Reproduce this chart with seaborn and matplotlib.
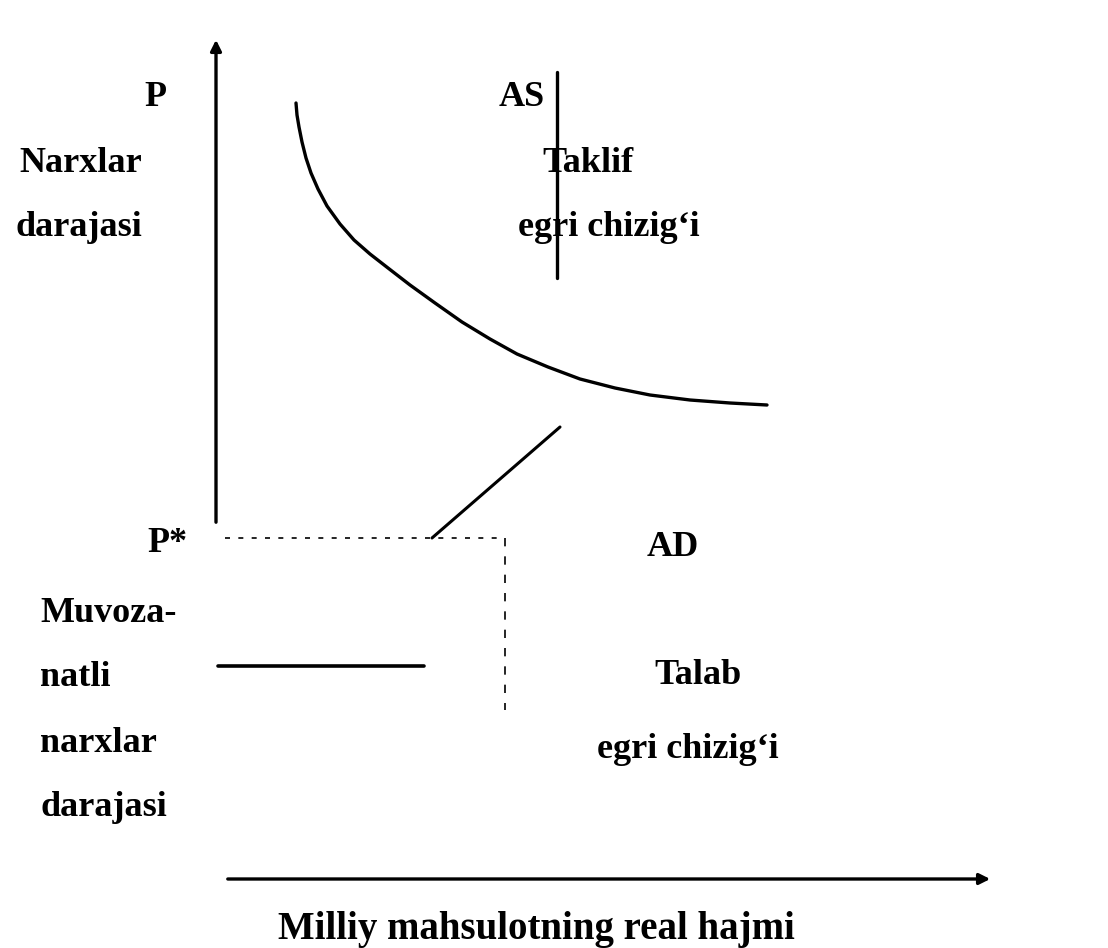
import matplotlib
matplotlib.use("Agg")
import matplotlib.pyplot as plt
import pandas as pd
import seaborn as sns

# AD curve, read in picture pixels (y grows downwards)
ad_x = [296, 297, 299, 302, 306, 311, 318, 327, 340, 354, 370, 388, 410, 435, 462, 490, 517, 548, 580, 615, 650, 690, 730, 767]
ad_y = [103, 115, 127, 142, 158, 173, 189, 206, 224, 240, 254, 268, 285, 303, 322, 339, 354, 367, 379, 388, 395, 400, 403, 405]

# vertical AS line
as_x = [557, 557]
as_y = [72, 278]

# short rising segment meeting the P* level
seg_x = [432, 560]
seg_y = [538, 427]

# dashed guides at P*
pstar_x = [225, 505]
pstar_y = [538, 538]
drop_x = [505, 505]
drop_y = [538, 710]

# solid level line below
level_x = [218, 424]
level_y = [666, 666]

# axes ends
yaxis_x, yaxis_y0, yaxis_y1 = 216, 525, 37
xaxis_y, xaxis_x0, xaxis_x1 = 879, 225, 993

labels = [
    ("P", 155, 97, "center", 26),
    ("Narxlar", 142, 163, "right", 26),
    ("darajasi", 142, 227, "right", 26),
    ("AS", 522, 97, "center", 26),
    ("Taklif", 542, 163, "left", 26),
    ("egri chizig\u2018i", 518, 227, "left", 26),
    ("P*", 167, 543, "center", 26),
    ("Muvoza-", 40, 613, "left", 26),
    ("natli", 40, 677, "left", 26),
    ("narxlar", 40, 743, "left", 26),
    ("darajasi", 40, 808, "left", 26),
    ("AD", 673, 547, "center", 26),
    ("Talab", 698, 675, "center", 26),
    ("egri chizig\u2018i", 688, 750, "center", 26),
    ("Milliy mahsulotning real hajmi", 278, 930, "left", 28),
]

sns.set_theme(style="white")
plt.rcParams["font.family"] = ["Liberation Serif", "DejaVu Serif"]

fig = plt.figure(figsize=(11.08, 9.48), dpi=100)
ax = fig.add_axes([0, 0, 1, 1])
ax.set_xlim(0, 1108)
ax.set_ylim(948, 0)
ax.axis("off")

line_kw = dict(sort=False, estimator=None, color="black", ax=ax)
curve = pd.DataFrame({"x": ad_x, "y": ad_y})
sns.lineplot(data=curve, x="x", y="y", linewidth=2.4, solid_joinstyle="round", **line_kw)
sns.lineplot(x=as_x, y=as_y, linewidth=2.4, **line_kw)
sns.lineplot(x=seg_x, y=seg_y, linewidth=2.2, **line_kw)
sns.lineplot(x=level_x, y=level_y, linewidth=2.6, **line_kw)
ax.plot(pstar_x, pstar_y, color="black", linewidth=1.2, dashes=(3, 5))
ax.plot(drop_x, drop_y, color="black", linewidth=1.2, dashes=(5, 6))

arrow = dict(arrowstyle="-|>", color="black", linewidth=2.4, mutation_scale=16)
ax.annotate("", xy=(yaxis_x, yaxis_y1), xytext=(yaxis_x, yaxis_y0), arrowprops=arrow)
ax.annotate("", xy=(xaxis_x1, xaxis_y), xytext=(xaxis_x0, xaxis_y), arrowprops=arrow)

for text, x, y, ha, size in labels:
    ax.text(x, y, text, ha=ha, va="center", fontsize=size, fontweight="bold", color="black")

fig.savefig("out.png", dpi=100, facecolor="white")
